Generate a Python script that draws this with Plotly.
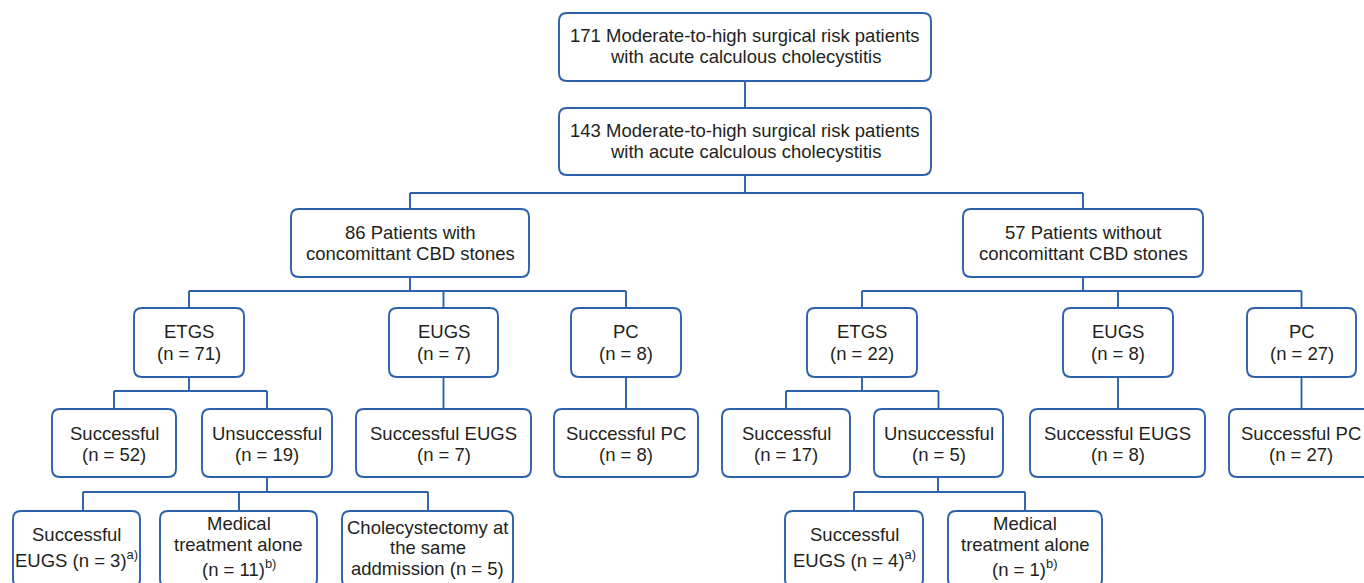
import plotly.graph_objects as go

# ---------------- data ----------------
screened_total = 171
included_total = 143
cohort_desc = ["Moderate-to-high surgical risk patients", "with acute calculous cholecystitis"]
group_counts = [86, 57]
group_desc = ["Patients with", "Patients without"]
treatment_names = ["ETGS", "EUGS", "PC"]
treatment_counts_cbd = [71, 7, 8]
treatment_counts_nocbd = [22, 8, 27]
etgs_outcomes = ["Successful", "Unsuccessful"]
etgs_outcome_counts_cbd = [52, 19]
etgs_outcome_counts_nocbd = [17, 5]
unsuccessful_counts_cbd = [3, 11, 5]
unsuccessful_counts_nocbd = [4, 1]

# ---------------- styles ----------------
W, H = 1364, 583
BLUE = "#2c60ab"
TXT = "#231f20"
FONT = "Liberation Sans, Arial, sans-serif"
FS = 18.5
LW = 1.9

# vertical extents of each level (pixels from top)
LEV = {0: (13, 81), 1: (108, 175), 2: (209, 277), 3: (308, 377), 4: (409, 477), 5: (511, 587)}
BUS = {1: 193, 2: 291, 3: 391, 4: 492}

shapes = []
annotations = []


def rrect(x0, y0, x1, y1, r=8):
    return (f"M {x0+r},{y0} L {x1-r},{y0} Q {x1},{y0} {x1},{y0+r} L {x1},{y1-r} "
            f"Q {x1},{y1} {x1-r},{y1} L {x0+r},{y1} Q {x0},{y1} {x0},{y1-r} "
            f"L {x0},{y0+r} Q {x0},{y0} {x0+r},{y0} Z")


def box(x0, x1, level, lines, ys=None):
    y0, y1 = LEV[level]
    shapes.append(dict(type="path", path=rrect(x0, y0, x1, y1), xref="x", yref="y",
                       line=dict(color=BLUE, width=LW), fillcolor="white", layer="above"))
    cx = (x0 + x1) / 2
    if ys is None:
        cy = (y0 + y1) / 2
        n = len(lines)
        ys = [cy + (i - (n - 1) / 2) * 21 for i in range(n)]
    for t, yy in zip(lines, ys):
        annotations.append(dict(x=cx, y=yy, text=t, showarrow=False, xref="x", yref="y",
                                xanchor="center", yanchor="middle",
                                font=dict(family=FONT, size=FS, color=TXT)))


def seg(xa, ya, xb, yb):
    shapes.append(dict(type="line", x0=xa, y0=ya, x1=xb, y1=yb, xref="x", yref="y",
                       line=dict(color=BLUE, width=LW), layer="below"))


def n_txt(n):
    return f"(n = {n})"


# ---------------- top boxes ----------------
box(559, 931, 0, [f"{screened_total} {cohort_desc[0]}", cohort_desc[1]], ys=[35.5, 56])
box(559, 931, 1, [f"{included_total} {cohort_desc[0]}", cohort_desc[1]], ys=[130.5, 151])
seg(745, 81, 745, 108)
seg(745, 175, 745, BUS[1])
seg(410, BUS[1], 1083, BUS[1])
seg(410, BUS[1], 410, 209)
seg(1083, BUS[1], 1083, 209)

# ---------------- group boxes ----------------
box(291, 529, 2, [f"{group_counts[0]} {group_desc[0]}", "concomittant CBD stones"], ys=[232.5, 253.5])
box(963, 1203, 2, [f"{group_counts[1]} {group_desc[1]}", "concomittant CBD stones"], ys=[232.5, 253.5])

# ---------------- treatments ----------------
sides = [
    dict(gx=410, tx=[(134, 244), (389, 498), (571, 681)], counts=treatment_counts_cbd,
         out=[(52, 176), (202, 332)], oc=etgs_outcome_counts_cbd,
         s_eugs=(356, 531), s_pc=(554, 698)),
    dict(gx=1083, tx=[(807, 917), (1063, 1173), (1247, 1356)], counts=treatment_counts_nocbd,
         out=[(722, 850), (874, 1003)], oc=etgs_outcome_counts_nocbd,
         s_eugs=(1030, 1205), s_pc=(1229, 1373)),
]
for s in sides:
    cxs = [(a + b) / 2 for a, b in s["tx"]]
    seg(s["gx"], 277, s["gx"], BUS[2])
    seg(cxs[0], BUS[2], cxs[-1], BUS[2])
    for (a, b), name, c, cx in zip(s["tx"], treatment_names, s["counts"], cxs):
        seg(cx, BUS[2], cx, 308)
        box(a, b, 3, [name, n_txt(c)], ys=[331.5, 353])
    # ETGS outcomes
    ocx = [(a + b) / 2 for a, b in s["out"]]
    seg(cxs[0], 377, cxs[0], BUS[3])
    seg(ocx[0], BUS[3], ocx[1], BUS[3])
    for (a, b), name, c, cx in zip(s["out"], etgs_outcomes, s["oc"], ocx):
        seg(cx, BUS[3], cx, 409)
        box(a, b, 4, [name, n_txt(c)], ys=[433, 454])
    # EUGS / PC outcomes
    seg(cxs[1], 377, cxs[1], 409)
    box(s["s_eugs"][0], s["s_eugs"][1], 4, [f"Successful {treatment_names[1]}", n_txt(s["counts"][1])], ys=[433, 454])
    seg(cxs[2], 377, cxs[2], 409)
    box(s["s_pc"][0], s["s_pc"][1], 4, [f"Successful {treatment_names[2]}", n_txt(s["counts"][2])], ys=[433, 454])

# ---------------- after unsuccessful ETGS (left) ----------------
seg(267, 477, 267, BUS[4])
seg(83, BUS[4], 428, BUS[4])
for x in (83, 239, 428):
    seg(x, BUS[4], x, 511)
box(13, 140, 5, ["Successful", f"EUGS (n = {unsuccessful_counts_cbd[0]})<sup>a)</sup>"], ys=[534, 559])
box(160, 317, 5, ["Medical", "treatment alone", f"(n = {unsuccessful_counts_cbd[1]})<sup>b)</sup>"], ys=[523.5, 544, 568])
box(342, 513, 5, ["Cholecystectomy at", "the same", f"addmission (n = {unsuccessful_counts_cbd[2]})"], ys=[527, 547.5, 568])

# ---------------- after unsuccessful ETGS (right) ----------------
seg(938, 477, 938, BUS[4])
seg(854, BUS[4], 1025, BUS[4])
for x in (854, 1025):
    seg(x, BUS[4], x, 511)
box(785, 923, 5, ["Successful", f"EUGS (n = {unsuccessful_counts_nocbd[0]})<sup>a)</sup>"], ys=[534, 559])
box(948, 1102, 5, ["Medical", "treatment alone", f"(n = {unsuccessful_counts_nocbd[1]})<sup>b)</sup>"], ys=[523.5, 544, 568])

fig = go.Figure()
fig.update_layout(
    width=W, height=H, margin=dict(l=0, r=0, t=0, b=0),
    paper_bgcolor="white", plot_bgcolor="white",
    xaxis=dict(range=[0, W], visible=False, fixedrange=True),
    yaxis=dict(range=[H, 0], visible=False, fixedrange=True),
    shapes=shapes, annotations=annotations, showlegend=False,
)
fig.write_html("out.html", config={"displayModeBar": False},
               post_script="document.body.style.margin='0';document.body.style.overflow='hidden';")
